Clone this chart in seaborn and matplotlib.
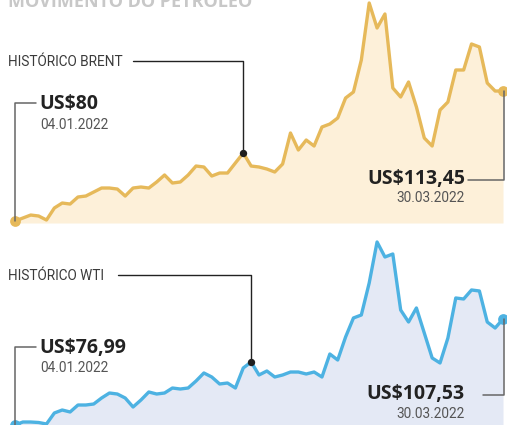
import numpy as np
import pandas as pd
import matplotlib.pyplot as plt
import seaborn as sns

# Cotações diárias (US$) de 04.01.2022 a 30.03.2022
brent = [80.00, 80.77, 81.54, 81.29, 80.26, 83.35, 84.63, 84.37, 86.18, 86.43,
         87.46, 88.49, 88.49, 88.23, 86.43, 88.49, 88.75, 88.49, 90.04, 91.84,
         89.78, 90.04, 91.84, 94.15, 93.90, 91.58, 92.35, 92.35, 94.93, 97.50,
         94.15, 93.90, 93.38, 92.61, 94.67, 102.65, 98.27, 100.84, 99.30, 104.19,
         104.96, 106.51, 111.65, 113.20, 121.43, 136.10, 129.67, 133.27, 114.23, 111.91,
         115.77, 109.34, 101.36, 99.30, 108.56, 110.62, 118.86, 118.86, 125.55, 124.78,
         115.51, 113.45, 113.45]
wti = [76.99, 77.85, 77.85, 77.71, 77.28, 80.45, 81.31, 80.74, 82.75, 82.75,
       83.04, 84.77, 86.21, 85.92, 84.77, 82.18, 84.19, 86.50, 85.92, 86.21,
       87.65, 87.36, 87.65, 89.67, 91.98, 90.82, 88.81, 89.09, 87.65, 93.42,
       95.15, 91.40, 92.55, 90.82, 91.40, 92.26, 92.26, 91.69, 92.26, 90.82,
       97.45, 95.72, 102.35, 107.83, 108.69, 117.91, 129.73, 125.40, 126.27, 110.13,
       106.67, 110.71, 103.50, 96.30, 94.86, 102.06, 113.59, 113.30, 115.90, 115.61,
       106.67, 104.94, 107.53]
dias = list(range(len(brent)))

titulo = "MOVIMENTO DO PETRÓLEO"
rotulos = ["HISTÓRICO BRENT", "HISTÓRICO WTI"]
valor_ini = ["US$80", "US$76,99"]
valor_fim = ["US$113,45", "US$107,53"]
data_ini = "04.01.2022"
data_fim = "30.03.2022"
destaque = [29, 30]  # índice do ponto marcado em preto

df = pd.DataFrame({"dia": dias, "Brent": brent, "WTI": wti})

sns.set_theme(style="white")
plt.rcParams['font.family'] = ['Roboto', 'DejaVu Sans']

W, H = 507, 425
fig = plt.figure(figsize=(W / 100, H / 100), dpi=100)

REG = dict(family=["Roboto", "DejaVu Sans"], fontweight="normal")
BOLD = dict(family=["Open Sans", "DejaVu Sans"], fontweight="bold")


def px(x, y):
    return x / W, 1 - y / H


def eixo(x0, y0, x1, y1):
    return fig.add_axes([x0 / W, 1 - y1 / H, (x1 - x0) / W, (y1 - y0) / H])


def to_fig(ax, x, y):
    d = ax.transData.transform((x, y))
    return fig.transFigure.inverted().transform(d)


def linha(pts, color, lw=1.0):
    xs = [p[0] for p in pts]
    ys = [p[1] for p in pts]
    fig.add_artist(plt.Line2D(xs, ys, transform=fig.transFigure, color=color, lw=lw))


ax1 = eixo(15, 0, 503, 223)
ax2 = eixo(15, 228, 503, 425)

paineis = [
    (ax1, "Brent", "#e6b95a", "#fdf0d9", (79.49, 136.87)),
    (ax2, "WTI", "#4db2e2", "#e4e9f5", (76.99, 133.76)),
]

for ax, col, cor, fundo, lim in paineis:
    ax.set_xlim(0, len(dias) - 1)
    ax.set_ylim(*lim)
    ax.fill_between(df["dia"], df[col], lim[0], color=fundo, lw=0, zorder=1)
    sns.lineplot(data=df, x="dia", y=col, ax=ax, color=cor, lw=2.4, zorder=2)
    ax.scatter([dias[0], dias[-1]], [df[col].iloc[0], df[col].iloc[-1]],
               s=60, color=cor, zorder=4, clip_on=False, lw=0)
    ax.set_axis_off()

# Pontos em destaque
for ax, col, i in [(ax1, "Brent", destaque[0]), (ax2, "WTI", destaque[1])]:
    ax.scatter([dias[i]], [df[col].iloc[i]], s=28, color="#1e1e1e", zorder=5, clip_on=False, lw=0)

# Título (cortado no topo, como no original)
fig.text(*px(8, 7), titulo, fontsize=13, color="#c8c8c8",
         ha="left", va="baseline", **BOLD)

# Anotações
config = [
    # ax, col, idx destaque, y rótulo, x fim rótulo, y valor ini, y data ini, y valor fim, y data fim, x início linha fim
    (ax1, "Brent", destaque[0], 62, 133, 104, 125, 179, 198, 468),
    (ax2, "WTI", destaque[1], 276, 118, 348, 368, 394, 414, 483),
]

for k, (ax, col, i, yr, xr, yvi, ydi, yvf, ydf, xlf) in enumerate(config):
    fig.text(*px(8, yr), rotulos[k], fontsize=9.8, color="#3a3a3a", ha="left", va="center", **REG)
    dx, dy = to_fig(ax, dias[i], df[col].iloc[i])
    linha([px(xr, yr - 1), (dx, px(0, yr - 1)[1]), (dx, dy)], "#222222", 1.0)

    sx, sy = to_fig(ax, dias[0], df[col].iloc[0])
    linha([px(36, yvi - 1), (sx, px(0, yvi - 1)[1]), (sx, sy)], "#666666", 1.1)
    fig.text(*px(39, yvi), valor_ini[k], fontsize=14, color="#222222",
             ha="left", va="center", **BOLD)
    fig.text(*px(40, ydi), data_ini, fontsize=9.8, color="#555555", ha="left", va="center", **REG)

    ex, ey = to_fig(ax, dias[-1], df[col].iloc[-1])
    linha([px(xlf, yvf + 1), (ex + 1 / W, px(0, yvf + 1)[1]), (ex + 1 / W, ey)], "#666666", 1.1)
    fig.text(*px(465, yvf), valor_fim[k], fontsize=14, color="#222222",
             ha="right", va="center", **BOLD)
    fig.text(*px(465, ydf), data_fim, fontsize=9.8, color="#555555", ha="right", va="center", **REG)

fig.savefig("out.png", dpi=100)
